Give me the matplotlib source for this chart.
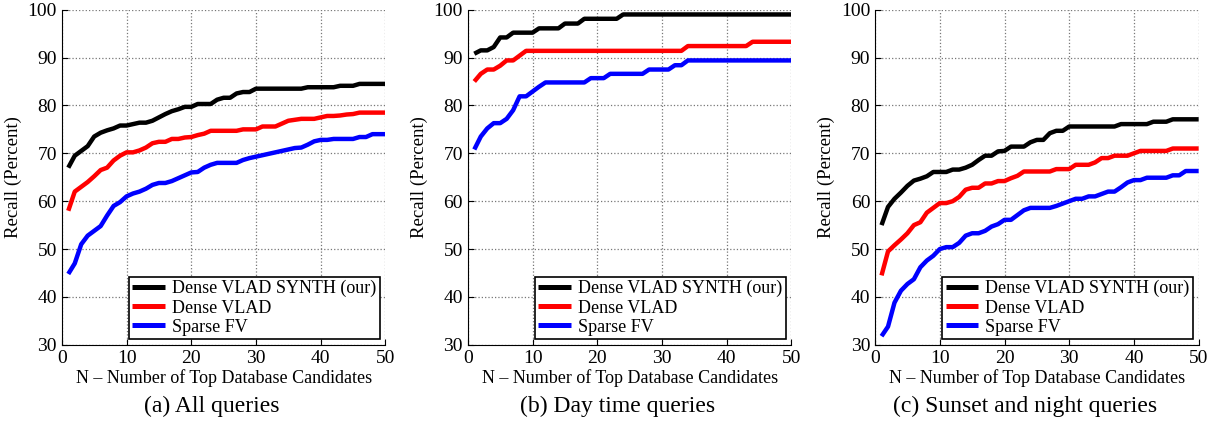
import numpy as np
import matplotlib.pyplot as plt

plt.rcParams['font.family'] = ['Liberation Serif', 'DejaVu Serif']

# Datos (N = 1..50)
n_cand = np.arange(1, 51)

synth_all = [67.0, 69.5, 70.5, 71.5, 73.5, 74.3, 74.8, 75.2, 75.8, 75.8,
             76.1, 76.4, 76.4, 76.8, 77.5, 78.2, 78.8, 79.2, 79.7, 79.7,
             80.3, 80.3, 80.3, 81.2, 81.6, 81.6, 82.5, 82.8, 82.8, 83.5,
             83.5, 83.5, 83.5, 83.5, 83.5, 83.5, 83.5, 83.8, 83.8, 83.8,
             83.8, 83.8, 84.1, 84.1, 84.1, 84.5, 84.5, 84.5, 84.5, 84.5]
vlad_all = [58.0, 62.0, 63.0, 64.0, 65.2, 66.5, 67.0, 68.5, 69.5, 70.2,
            70.2, 70.6, 71.2, 72.1, 72.4, 72.4, 73.0, 73.0, 73.3, 73.4,
            73.8, 74.1, 74.7, 74.7, 74.7, 74.7, 74.7, 75.0, 75.0, 75.0,
            75.6, 75.6, 75.6, 76.2, 76.8, 77.0, 77.2, 77.2, 77.2, 77.5,
            77.8, 77.8, 77.9, 78.1, 78.2, 78.5, 78.5, 78.5, 78.5, 78.5]
fv_all = [44.8, 47.0, 51.0, 52.8, 53.8, 54.8, 57.0, 59.0, 59.8, 61.0,
          61.6, 62.0, 62.6, 63.4, 63.8, 63.8, 64.2, 64.8, 65.4, 66.0,
          66.1, 67.0, 67.6, 68.0, 68.0, 68.0, 68.0, 68.6, 69.0, 69.3,
          69.6, 69.9, 70.2, 70.5, 70.8, 71.1, 71.2, 71.8, 72.5, 72.8,
          72.8, 73.0, 73.0, 73.0, 73.0, 73.4, 73.4, 74.0, 74.0, 74.0]

synth_day = [90.8, 91.5, 91.5, 92.2, 94.2, 94.2, 95.2, 95.2, 95.2, 95.2,
             96.1, 96.1, 96.1, 96.1, 97.1, 97.1, 97.1, 98.1, 98.1, 98.1,
             98.1, 98.1, 98.1, 99.0, 99.0, 99.0, 99.0, 99.0, 99.0, 99.0,
             99.0, 99.0, 99.0, 99.0, 99.0, 99.0, 99.0, 99.0, 99.0, 99.0,
             99.0, 99.0, 99.0, 99.0, 99.0, 99.0, 99.0, 99.0, 99.0, 99.0]
vlad_day = [85.0, 86.6, 87.5, 87.5, 88.3, 89.4, 89.4, 90.4, 91.4, 91.4,
            91.4, 91.4, 91.4, 91.4, 91.4, 91.4, 91.4, 91.4, 91.4, 91.4,
            91.4, 91.4, 91.4, 91.4, 91.4, 91.4, 91.4, 91.4, 91.4, 91.4,
            91.4, 91.4, 91.4, 92.4, 92.4, 92.4, 92.4, 92.4, 92.4, 92.4,
            92.4, 92.4, 92.4, 93.3, 93.3, 93.3, 93.3, 93.3, 93.3, 93.3]
fv_day = [70.8, 73.5, 75.2, 76.3, 76.3, 77.2, 79.0, 81.9, 81.9, 82.9,
          83.9, 84.8, 84.8, 84.8, 84.8, 84.8, 84.8, 84.8, 85.7, 85.7,
          85.7, 86.6, 86.6, 86.6, 86.6, 86.6, 86.6, 87.5, 87.5, 87.5,
          87.5, 88.4, 88.4, 89.4, 89.4, 89.4, 89.4, 89.4, 89.4, 89.4,
          89.4, 89.4, 89.4, 89.4, 89.4, 89.4, 89.4, 89.4, 89.4, 89.4]

synth_night = [55.0, 58.8, 60.5, 61.8, 63.2, 64.3, 64.7, 65.2, 66.1, 66.1,
               66.1, 66.6, 66.6, 67.0, 67.6, 68.6, 69.5, 69.5, 70.4, 70.5,
               71.4, 71.4, 71.4, 72.3, 72.8, 72.8, 74.2, 74.7, 74.7, 75.6,
               75.6, 75.6, 75.6, 75.6, 75.6, 75.6, 75.6, 76.1, 76.1, 76.1,
               76.1, 76.1, 76.6, 76.6, 76.6, 77.1, 77.1, 77.1, 77.1, 77.1]
vlad_night = [44.5, 49.5, 50.8, 52.0, 53.3, 55.0, 55.6, 57.6, 58.6, 59.6,
              59.6, 60.0, 60.9, 62.4, 62.8, 62.8, 63.7, 63.7, 64.2, 64.2,
              64.8, 65.3, 66.2, 66.2, 66.2, 66.2, 66.2, 66.7, 66.7, 66.7,
              67.6, 67.6, 67.6, 68.1, 69.0, 69.0, 69.5, 69.5, 69.5, 70.0,
              70.5, 70.5, 70.5, 70.5, 70.5, 71.0, 71.0, 71.0, 71.0, 71.0]
fv_night = [31.8, 33.8, 38.8, 41.3, 42.7, 43.7, 46.2, 47.6, 48.6, 50.0,
            50.4, 50.4, 51.3, 52.8, 53.3, 53.3, 53.8, 54.7, 55.2, 56.1,
            56.1, 57.1, 58.1, 58.6, 58.6, 58.6, 58.6, 59.0, 59.5, 60.0,
            60.5, 60.5, 61.0, 61.0, 61.5, 62.0, 62.0, 62.9, 63.9, 64.4,
            64.4, 64.9, 64.9, 64.9, 64.9, 65.4, 65.4, 66.3, 66.3, 66.3]

labels = ["Dense VLAD SYNTH (our)", "Dense VLAD", "Sparse FV"]
colors = ["black", "red", "blue"]
captions = ["(a) All queries", "(b) Day time queries", "(c) Sunset and night queries"]
panels = [(synth_all, vlad_all, fv_all),
          (synth_day, vlad_day, fv_day),
          (synth_night, vlad_night, fv_night)]

fig = plt.figure(figsize=(12.12, 4.21), dpi=100)
lefts = [0.051, 0.386, 0.722]
w = 0.267
bottom, h = 0.181, 0.796

for i, (curves, cap) in enumerate(zip(panels, captions)):
    ax = fig.add_axes([lefts[i], bottom, w, h])
    for y, lab, c in zip(curves, labels, colors):
        ax.plot(n_cand, y, color=c, lw=3.2, label=lab, solid_capstyle='butt')
    ax.set_xlim(0, 50)
    ax.set_ylim(30, 100)
    ax.set_xticks(np.arange(0, 51, 10))
    ax.set_yticks(np.arange(30, 101, 10))
    ax.grid(True, linestyle=':', color='#777777', lw=0.9)
    ax.spines['top'].set_visible(False)
    ax.spines['right'].set_visible(False)
    ax.tick_params(direction='in', labelsize=14, length=4)
    ax.set_xlabel("N – Number of Top Database Candidates", fontsize=13, labelpad=2)
    ax.set_ylabel("Recall (Percent)", fontsize=13.5)
    leg = ax.legend(loc='lower right', fontsize=13, fancybox=False, framealpha=1,
                    edgecolor='black', handlelength=1.8, borderpad=0.2,
                    labelspacing=0.12, handletextpad=0.4, borderaxespad=0.3)
    leg.get_frame().set_linewidth(1.2)
    for line in leg.get_lines():
        line.set_linewidth(3.6)
    fig.text(lefts[i] + w / 2 - 0.01, 0.035, cap, ha='center', va='center', fontsize=17)

plt.savefig("out.png", dpi=100)
